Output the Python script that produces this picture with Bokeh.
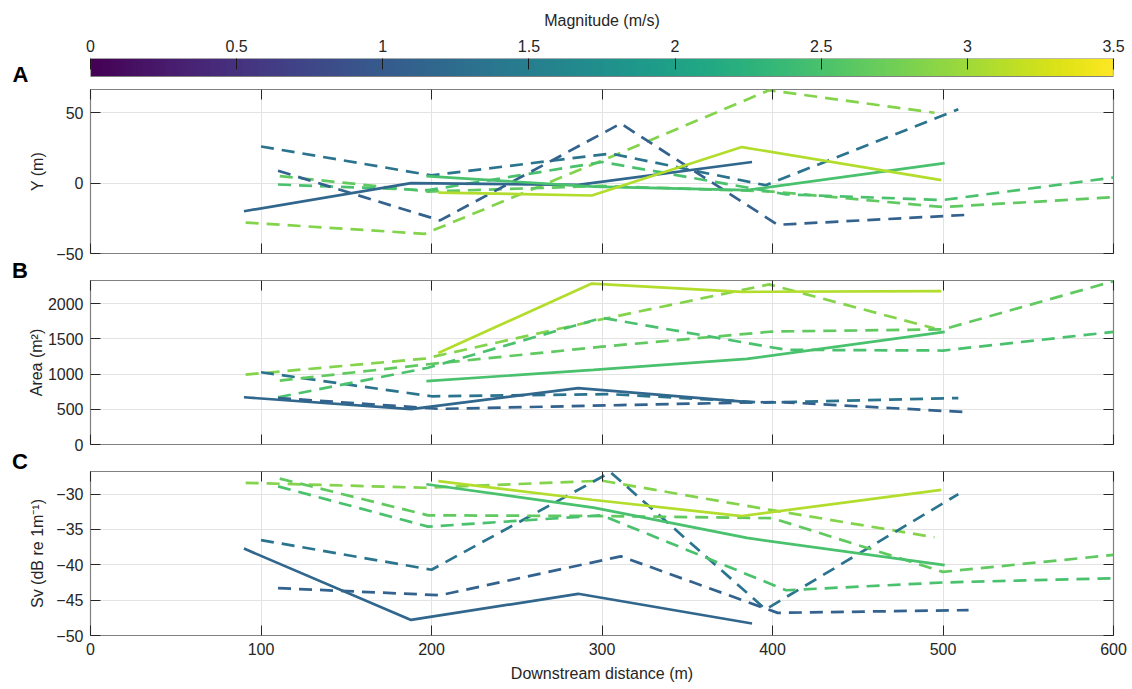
import numpy as np
from bokeh.plotting import figure
from bokeh.models import LinearAxis, FixedTicker, LinearColorMapper, Range1d, Div
from bokeh.layouts import column
from bokeh.palettes import Viridis256
from bokeh.embed import file_html
from bokeh.resources import INLINE

FONT = "Liberation Sans"
TXT = "#262626"
BOX = "#808080"
GRID = "#e3e3e3"

# ---------------- colour scale ----------------
mag_low, mag_high = 0.0, 3.5
cbar_ticks = [0, 0.5, 1, 1.5, 2, 2.5, 3, 3.5]
cbar_labels = ["0", "0.5", "1", "1.5", "2", "2.5", "3", "3.5"]

# ---------------- axes ----------------
x_ticks = [0, 100, 200, 300, 400, 500, 600]
y_ticks = [-50, 0, 50]
area_ticks = [0, 500, 1000, 1500, 2000]
sv_ticks = [-50, -45, -40, -35, -30]

# ---------------- transects ----------------
# solid, blue
dist_1 = [90, 188, 286, 388]
y_1 = [-20, 0, -1.2, 15]
area_1 = [671, 502, 802, 599]
sv_1 = [-37.7, -47.8, -44.1, -48.3]
mag_1 = 1.15

# solid, green
dist_2 = [197, 295, 385, 501]
y_2 = [5, -2.5, -5, 14.2]
area_2 = [901, 1060, 1216, 1600]
sv_2 = [-28.6, -31.9, -36.2, -40.05]
mag_2 = 2.5

# solid, yellow-green
dist_3 = [204, 294, 382, 499]
y_3 = [-6.7, -8.8, 25.6, 2.1]
area_3 = [1300, 2286, 2169, 2179]
sv_3 = [-28.15, -30.8, -33.1, -29.4]
mag_3 = 3.1

# dashed, light green
dist_4 = [91, 196, 300, 398, 495]
y_4 = [-28, -36, 16, 66, 50]
area_4 = [993, 1220, 1780, 2275, 1650]
sv_4 = [-28.4, -29.1, -28.1, -32.2, -36.1]
mag_4 = 2.85

# dashed, teal
dist_5 = [100, 200, 305, 396, 509]
y_5 = [26, 5.5, 21, -1.5, 52.4]
area_5 = [1026, 685, 715, 595, 660]
sv_5 = [-36.5, -40.7, -26.9, -46.3, -30.0]
mag_5 = 1.35

# dashed, green (a)
dist_6 = [111, 198, 300, 400, 500, 600]
y_6 = [5, -6, -2, -6, -17, -10]
area_6 = [908, 1140, 1390, 1605, 1635, 2320]
sv_6 = [-27.8, -33.0, -33.1, -33.4, -41.0, -38.6]
mag_6 = 2.65

# dashed, green (b)
dist_7 = [110, 198, 300, 408, 500, 600]
y_7 = [-1, -5, 15, -8, -12, 4]
area_7 = [671, 1090, 1800, 1345, 1335, 1600]
sv_7 = [-28.9, -34.6, -33.0, -43.6, -42.5, -41.9]
mag_7 = 2.5

# dashed, dark blue
dist_8 = [110, 205, 311, 403, 515]
y_8 = [8.8, -26.5, 42.3, -29.6, -22.5]
area_8 = [660, 506, 560, 605, 458]
sv_8 = [-43.3, -44.3, -38.8, -46.8, -46.4]
mag_8 = 1.1

transects = [
    (dist_4, y_4, area_4, sv_4, mag_4, True),
    (dist_5, y_5, area_5, sv_5, mag_5, True),
    (dist_6, y_6, area_6, sv_6, mag_6, True),
    (dist_7, y_7, area_7, sv_7, mag_7, True),
    (dist_8, y_8, area_8, sv_8, mag_8, True),
    (dist_1, y_1, area_1, sv_1, mag_1, False),
    (dist_2, y_2, area_2, sv_2, mag_2, False),
    (dist_3, y_3, area_3, sv_3, mag_3, False),
]


def mag_color(m):
    i = int(round((m - mag_low) / (mag_high - mag_low) * 255))
    return Viridis256[max(0, min(255, i))]


W = 1128
LEFT = 90
RIGHT = 15


def style_axis(ax):
    ax.axis_line_color = None
    ax.major_tick_in = 10
    ax.major_tick_out = 0
    ax.minor_tick_line_color = None
    ax.major_tick_line_color = TXT
    ax.major_label_text_font = FONT
    ax.major_label_text_font_size = "16px"
    ax.major_label_text_color = TXT
    ax.axis_label_text_font = FONT
    ax.axis_label_text_font_size = "16px"
    ax.axis_label_text_font_style = "normal"
    ax.axis_label_text_color = TXT


def hide_labels(ax):
    ax.major_label_text_color = None
    ax.major_label_text_font_size = "1px"
    ax.major_label_standoff = 0


# ---------------- colour bar figure (also carries panel letter A) ----------------
BAR_PX, GAP_PX = 18, 13
span = mag_high - mag_low
p0 = figure(width=W, height=58 + BAR_PX + GAP_PX,
            x_range=Range1d(mag_low, mag_high),
            y_range=Range1d(-GAP_PX / BAR_PX, 1),
            x_axis_location="above", y_axis_location="left",
            min_border_left=LEFT, min_border_right=RIGHT, min_border_top=58, min_border_bottom=0,
            output_backend="svg", toolbar_location=None)
p0.outline_line_color = None
p0.grid.visible = False
mapper = LinearColorMapper(palette=Viridis256, low=mag_low, high=mag_high)
grad = np.linspace(mag_low, mag_high, 512).reshape(1, -1)
p0.image(image=[grad], x=mag_low, y=0, dw=span, dh=1, color_mapper=mapper)
p0.quad(left=[mag_low], right=[mag_high], bottom=[0], top=[1], fill_color=None,
        line_color=BOX, line_width=1.2)
ax0 = p0.xaxis[0]
style_axis(ax0)
ax0.ticker = FixedTicker(ticks=cbar_ticks)
ax0.major_label_overrides = {t: l for t, l in zip(cbar_ticks, cbar_labels)}
ax0.major_tick_in = 11
ax0.major_tick_line_color = "#1a1a1a"
ax0.major_label_standoff = 7
ax0.axis_label = "Magnitude (m/s)"
ax0.axis_label_standoff = 8
ly0 = p0.yaxis[0]
style_axis(ly0)
ly0.ticker = FixedTicker(ticks=[])
ly0.major_tick_line_color = None
hide_labels(ly0)
ly0.axis_label = "A"
ly0.axis_label_orientation = "horizontal"
ly0.axis_label_text_font_size = "22px"
ly0.axis_label_text_font_style = "bold"
ly0.axis_label_text_color = "black"
ly0.axis_label_standoff = 62


def letter_div(letter, h):
    html = ('<div style="margin:0;padding:0 0 0 12px;font-family:\'Liberation Sans\',Arial,sans-serif;'
            'font-size:22px;font-weight:bold;line-height:%dpx;color:black;white-space:nowrap">%s</div>'
            % (h, letter))
    return Div(text=html, width=W, height=h, margin=0)


def make_panel(yr, yticks, ylabel, height, bottom, show_x, lab_standoff, key):
    p = figure(width=W, height=height, x_range=Range1d(0, 600), y_range=Range1d(*yr),
               min_border_left=LEFT, min_border_right=RIGHT, min_border_top=0,
               min_border_bottom=bottom, output_backend="svg", toolbar_location=None)
    p.outline_line_color = BOX
    p.outline_line_width = 1.2
    p.xgrid.ticker = FixedTicker(ticks=x_ticks)
    p.ygrid.ticker = FixedTicker(ticks=yticks)
    p.grid.grid_line_color = GRID
    p.grid.grid_line_width = 1
    xa = p.xaxis[0]
    style_axis(xa)
    xa.ticker = FixedTicker(ticks=x_ticks)
    if show_x:
        xa.major_label_standoff = 7
        xa.axis_label = "Downstream distance (m)"
        xa.axis_label_standoff = 7
    else:
        hide_labels(xa)
    ya = p.yaxis[0]
    style_axis(ya)
    ya.ticker = FixedTicker(ticks=yticks)
    ya.major_label_standoff = 7
    ya.axis_label = ylabel
    ya.axis_label_standoff = lab_standoff
    top_ax = LinearAxis(ticker=FixedTicker(ticks=x_ticks))
    style_axis(top_ax)
    hide_labels(top_ax)
    p.add_layout(top_ax, "above")
    right_ax = LinearAxis(ticker=FixedTicker(ticks=yticks))
    style_axis(right_ax)
    hide_labels(right_ax)
    p.add_layout(right_ax, "right")
    for tr in transects:
        dist, yv, av, sv, m, dashed = tr
        vals = {"y": yv, "area": av, "sv": sv}[key]
        p.line(dist, vals, line_color=mag_color(m), line_width=2.7,
               line_dash="13 8" if dashed else "solid")
    return p


pA = make_panel((-50, 66.5), y_ticks, "Y (m)", 172, 8, False, 7, "y")
pB = make_panel((0, 2330), area_ticks, "Area (m²)", 172, 8, False, 0, "area")
pC = make_panel((-50, -26.8), sv_ticks, "Sv (dB re 1m⁻¹)", 214, 50, True, 7, "sv")

layout = column(p0, pA, letter_div("B", 19), pB, letter_div("C", 19), pC, spacing=0)
open("out.html", "w").write(file_html(layout, INLINE))
